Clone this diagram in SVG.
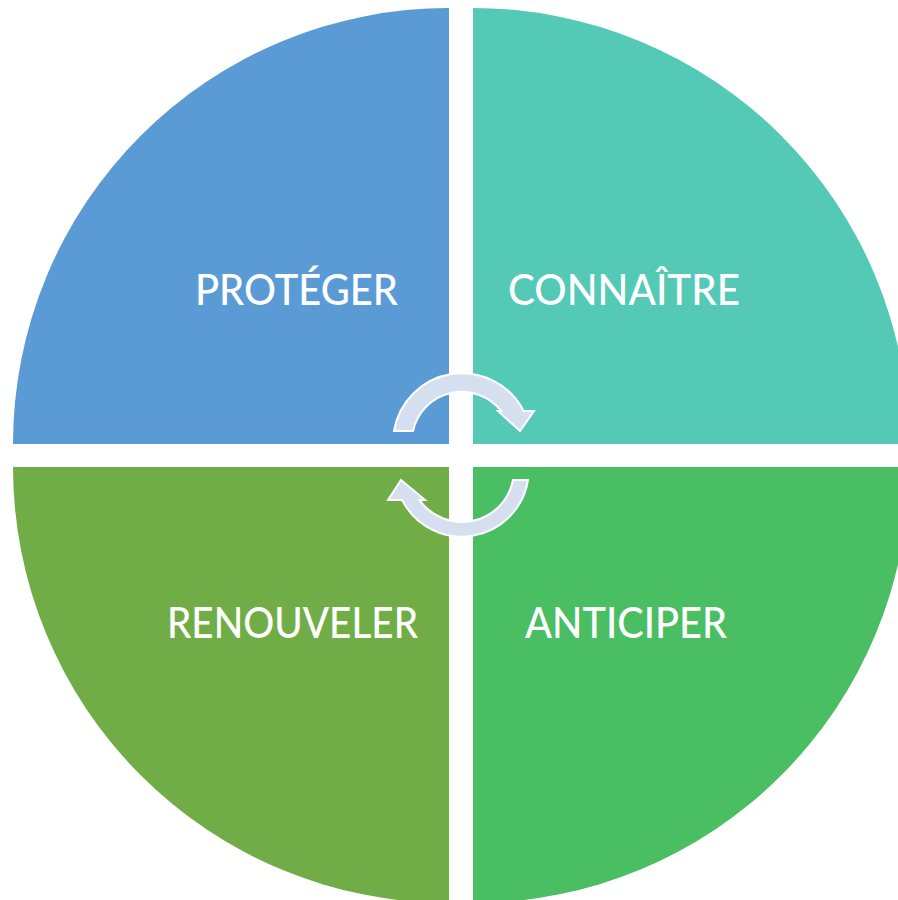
<svg xmlns="http://www.w3.org/2000/svg" width="898" height="900" viewBox="0 0 898 900">
<style>
.lbl{font-family:Lato,"Liberation Sans",sans-serif;font-size:42px;font-weight:500;fill:#FFFFFF}
.arr{fill:#D5DFEF;stroke:#FFFFFF;stroke-width:2;stroke-linejoin:miter}
</style>
<rect width="898" height="900" fill="#FFFFFF"/>
<g id="proteger">
<path d="M449,444 L13,444 A436,436 0 0 1 449,8 Z" fill="#5B9BD5"/>
<text class="lbl" x="195" y="305" textLength="203" lengthAdjust="spacingAndGlyphs">PROTÉGER</text>
</g>
<g id="connaitre">
<path d="M473,444 L473,8 A436,436 0 0 1 909,444 Z" fill="#54C9B6"/>
<text class="lbl" x="508" y="305" textLength="232" lengthAdjust="spacingAndGlyphs">CONNAÎTRE</text>
</g>
<g id="anticiper">
<path d="M473,467 L909,467 A436,436 0 0 1 473,903 Z" fill="#49BE62"/>
<text class="lbl" x="525" y="638" textLength="202" lengthAdjust="spacingAndGlyphs">ANTICIPER</text>
</g>
<g id="renouveler">
<path d="M449,467 L449,903 A436,436 0 0 1 13,467 Z" fill="#70AD47"/>
<text class="lbl" x="167" y="638" textLength="251" lengthAdjust="spacingAndGlyphs">RENOUVELER</text>
</g>
<g id="connectors">
<path class="arr" d="M394,431 A69,69 0 0 1 523.6,411 L534,411 L520,431 L498,411 L501.2,411 A50,50 0 0 0 413,431 Z"/>
<path class="arr" d="M528,480 A67,67 0 0 1 402.1,500 L388,500 L401,480 L425,500 L419.5,500 A52,52 0 0 0 513,480 Z"/>
</g>
</svg>
